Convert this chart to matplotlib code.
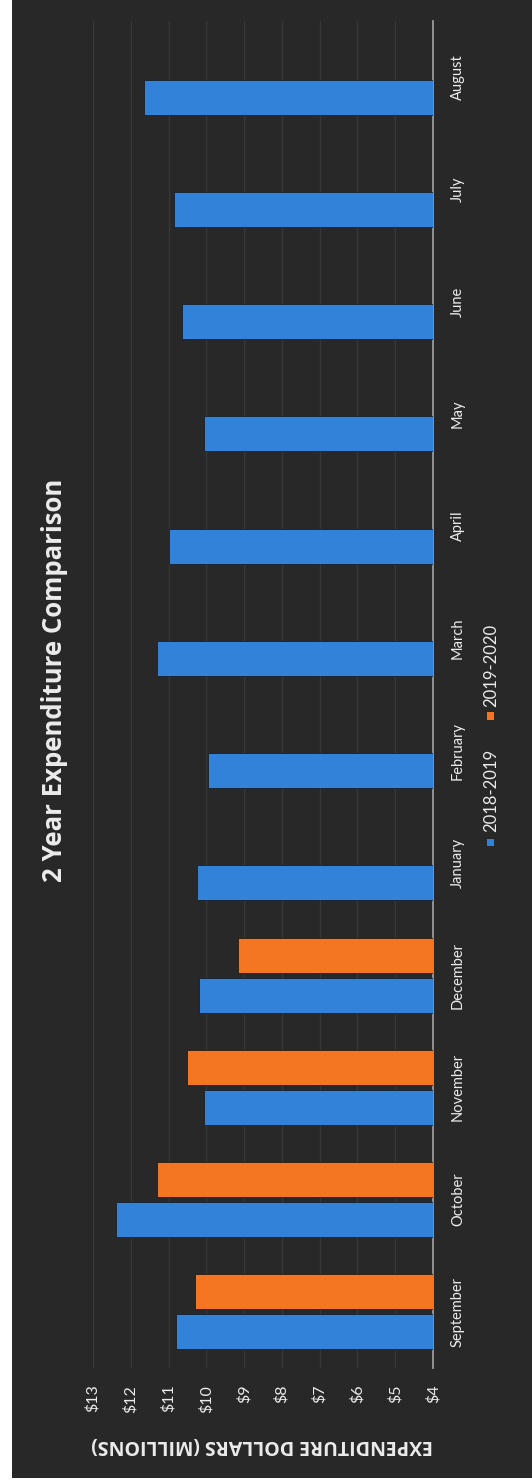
import matplotlib
matplotlib.use('Agg')
import matplotlib.pyplot as plt
from matplotlib.patches import Rectangle
import numpy as np

months = ['September', 'October', 'November', 'December', 'January', 'February',
          'March', 'April', 'May', 'June', 'July', 'August']
fy_2018_2019 = [10.8, 12.4, 10.05, 10.2, 10.25, 9.95, 11.3, 11.0, 10.05, 10.65, 10.85, 11.65]
fy_2019_2020 = [10.3, 11.3, 10.5, 9.15]
value_ticks = [4, 5, 6, 7, 8, 9, 10, 11, 12, 13]
tick_labels = ['$' + str(v) for v in value_ticks]

blue = '#3282da'
orange = '#f47623'
bg = '#282828'
txt = '#ececec'

plt.rcParams['font.family'] = ['Lato', 'DejaVu Sans']

W, H = 532, 1484
fig = plt.figure(figsize=(W / 100, H / 100), dpi=100, facecolor='white')
# dark chart area (scan leaves white edge on left and bottom)
fig.patches.append(Rectangle((12 / W, 6 / H), 1 - 12 / W, 1 - 6 / H,
                             transform=fig.transFigure, facecolor=bg, edgecolor='none', zorder=-5))

ax = fig.add_axes([93 / W, 1 - 1368 / H, (433 - 93) / W, (1368 - 21) / H])
ax.set_facecolor('none')

y = np.arange(len(months))
off = 0.178
h = 0.31
ax.barh(y - off, np.array(fy_2018_2019) - 4, left=4, height=h, color=blue,
        edgecolor='#15202e', linewidth=0.6, zorder=3)
y2 = y[:len(fy_2019_2020)]
ax.barh(y2 + off, np.array(fy_2019_2020) - 4, left=4, height=h, color=orange,
        edgecolor='#2a1a10', linewidth=0.6, zorder=3)

ax.set_xlim(13, 4)
ax.set_ylim(-0.5, len(months) - 0.5)

for v in value_ticks:
    ax.axvline(v, color='#383838', lw=0.9, zorder=1)

for s in ['top', 'left', 'bottom']:
    ax.spines[s].set_visible(False)
ax.spines['right'].set_color('#9a9a9a')
ax.spines['right'].set_linewidth(1.3)

ax.set_xticks(value_ticks)
ax.set_xticklabels(tick_labels, rotation=90, color=txt, fontsize=11.5)
ax.tick_params(axis='x', length=0, pad=12)

ax.yaxis.tick_right()
ax.set_yticks(y)
ax.set_yticklabels(months, rotation=90, color=txt, fontsize=10.5, va='center')
ax.tick_params(axis='y', length=0, pad=13)

# title, axis label and legend are rotated like the scan
fig.text(55 / W, 1 - 680 / H, '2 Year Expenditure Comparison', rotation=90,
         ha='center', va='center', color=txt, fontsize=18.5, fontweight='bold',
         family=['Open Sans', 'DejaVu Sans'])
fig.text(262 / W, 1 - 1445 / H, 'EXPENDITURE DOLLARS (MILLIONS)', rotation=180,
         ha='center', va='center', color=txt, fontsize=14, fontweight='bold',
         family=['Open Sans', 'DejaVu Sans'])

sq = 7
fig.patches.append(Rectangle(((490 - sq / 2) / W, 1 - (842 + sq / 2) / H), sq / W, sq / H,
                             transform=fig.transFigure, facecolor=blue, edgecolor='none'))
fig.text(491 / W, 1 - 790 / H, '2018-2019', rotation=90, ha='center', va='center',
         color=txt, fontsize=12)
fig.patches.append(Rectangle(((490 - sq / 2) / W, 1 - (716 + sq / 2) / H), sq / W, sq / H,
                             transform=fig.transFigure, facecolor=orange, edgecolor='none'))
fig.text(491 / W, 1 - 665 / H, '2019-2020', rotation=90, ha='center', va='center',
         color=txt, fontsize=12)

fig.savefig('out.png', dpi=100, facecolor=fig.get_facecolor())
